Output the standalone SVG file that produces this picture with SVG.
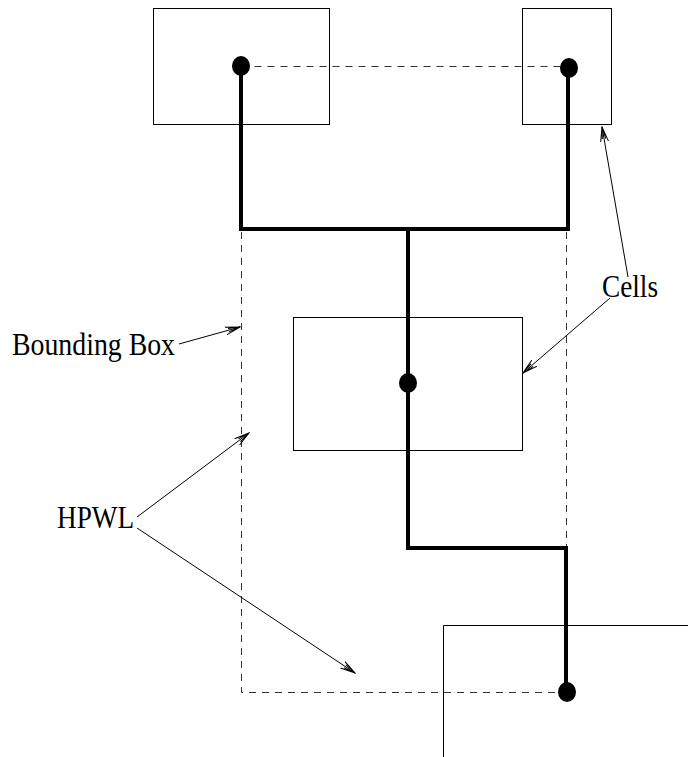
<svg xmlns="http://www.w3.org/2000/svg" width="688" height="757" viewBox="0 0 688 757">
<style>
.cell{fill:none;stroke:#000;stroke-width:1}
.bbox{fill:none;stroke:#333;stroke-width:1;stroke-dasharray:7 6}
.wire{fill:none;stroke:#000;stroke-width:4;stroke-linejoin:miter;stroke-linecap:butt}
.pin{fill:#000}
.lead{fill:none;stroke:#000;stroke-width:1}
.lbl{font-family:"Liberation Serif","Times New Roman",serif;font-size:31px;fill:#000}
</style>
<defs>
<marker id="ah" viewBox="0 0 16 10" refX="15" refY="5" markerWidth="16" markerHeight="10" markerUnits="userSpaceOnUse" orient="auto">
<path d="M0,1 L15,5 L0,9 M3,3.3 L15,5 L3,6.7" fill="none" stroke="#000" stroke-width="1"/>
</marker>
</defs>
<rect width="688" height="757" fill="#fff"/>
<g id="cell1"><rect class="cell" x="153.5" y="8.5" width="176" height="116"/></g>
<g id="cell2"><rect class="cell" x="522.5" y="8.5" width="89" height="116"/></g>
<g id="cell3"><rect class="cell" x="293.5" y="317.5" width="229" height="133"/></g>
<g id="cell4"><path class="cell" d="M443.5,757 V625.5 H688"/></g>
<g id="boundingbox">
<path class="bbox" d="M241.5,66.5 H569"/>
<path class="bbox" d="M241.5,232 V692.5 H567"/>
<path class="bbox" d="M566.5,232 V548"/>
</g>
<g id="net">
<path class="wire" d="M241,66 V229 H568 V68"/>
<path class="wire" d="M408,229 V548 H566 V692"/>
</g>
<g id="pins">
<ellipse class="pin" cx="241" cy="66" rx="9" ry="10"/>
<ellipse class="pin" cx="569" cy="68" rx="9" ry="10"/>
<ellipse class="pin" cx="408" cy="383" rx="9" ry="10"/>
<ellipse class="pin" cx="567" cy="692" rx="9" ry="10"/>
</g>
<g id="connectors">
<path class="lead" d="M179,344 L240,327" marker-end="url(#ah)"/>
<path class="lead" d="M628,277 L602,127" marker-end="url(#ah)"/>
<path class="lead" d="M610,298 L523,373" marker-end="url(#ah)"/>
<path class="lead" d="M137,517 L249,433" marker-end="url(#ah)"/>
<path class="lead" d="M137,528 L355,673" marker-end="url(#ah)"/>
</g>
<g id="labels">
<text class="lbl" x="12" y="355" textLength="163" lengthAdjust="spacingAndGlyphs">Bounding Box</text>
<text class="lbl" x="602" y="297" textLength="56" lengthAdjust="spacingAndGlyphs">Cells</text>
<text class="lbl" x="57" y="528" textLength="77" lengthAdjust="spacingAndGlyphs">HPWL</text>
</g>
</svg>
